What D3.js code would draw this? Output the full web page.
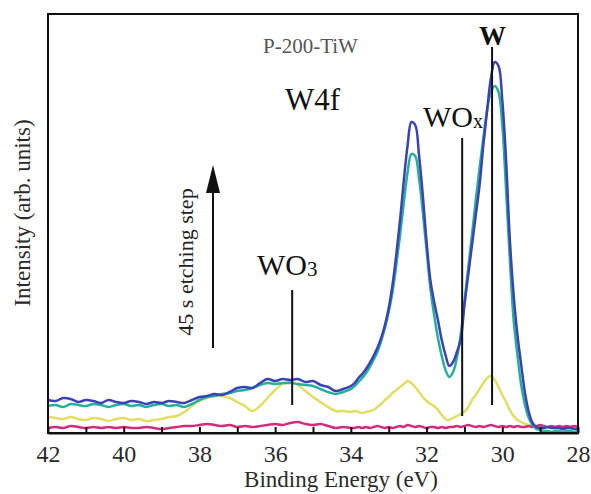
<!DOCTYPE html>
<html><head><meta charset="utf-8">
<script src="https://cdn.jsdelivr.net/npm/d3@7"></script>
<style>
html,body{margin:0;padding:0;background:#fff;}
svg{display:block;}
text{font-family:"Liberation Serif","Times New Roman",serif;}
</style></head>
<body>
<script>
// Binding energy grid (eV)
const energy = [42.0,41.8,41.6,41.4,41.2,41.0,40.8,40.6,40.4,40.2,40.0,39.8,39.6,39.4,39.2,39.0,38.8,38.6,38.4,38.2,
38.0,37.8,37.6,37.4,37.2,37.0,36.8,36.6,36.4,36.2,36.0,35.8,35.6,35.4,35.2,35.0,34.8,34.6,34.4,34.2,34.0,
33.9,33.8,33.7,33.6,33.5,33.4,33.3,33.2,33.1,33.0,32.9,32.8,32.7,32.6,32.5,32.4,32.3,32.2,32.1,32.0,
31.9,31.8,31.7,31.6,31.5,31.4,31.3,31.2,31.1,31.0,30.9,30.8,30.7,30.6,30.5,30.4,30.3,30.2,30.1,30.0,
29.9,29.8,29.7,29.6,29.5,29.4,29.3,29.2,29.1,29.0,28.9,28.8,28.7,28.6,28.5,28.4,28.3,28.2,28.1,28.0];

// Intensities (arb. units)
const seriesBlue = [33,32,35,34,31,33,32,30,33,31,30,32,31,29,31,30,32,31,30,33,
36,37,39,38,41,45,46,45,50,54,52,54,53,54,51,52,48,46,42,44,47,
50,55,59,64,70,77,85,95,108,125,148,178,213,253,288,311,308,278,238,191,
153,131,113,93,78,67,71,81,93,128,158,188,218,248,288,323,355,371,367,333,
273,193,138,98,68,40,21,10,6,5,5,6,5,5,5,4,5,5,4,4];

const seriesGreen = [27,28,26,29,28,27,29,28,26,28,29,27,28,26,28,29,27,28,26,29,
33,36,37,39,40,42,43,45,48,50,49,50,50,49,48,47,44,41,39,41,44,
47,51,55,60,66,73,81,92,105,121,141,168,198,231,261,279,277,255,221,183,
145,118,95,77,63,56,61,75,98,131,165,198,233,265,295,323,341,347,341,308,
243,173,113,78,48,28,15,8,4,3,2,2,1,2,2,1,2,2,1,2];

const seriesYellow = [16,15,14,16,14,13,15,14,12,14,15,13,14,12,13,14,16,17,21,27,
32,35,38,37,35,31,27,22,27,35,43,49,51,48,42,36,31,26,22,22,21,
22,21,20,21,22,23,26,29,33,36,40,43,46,49,52,50,46,41,36,32,
29,27,23,18,14,13,15,17,19,21,26,33,38,44,50,55,57,53,46,38,
31,23,17,13,11,9,8,7,6,6,5,6,5,5,6,5,5,6,5,5];

const seriesMagenta = [5,6,5,7,6,5,6,5,6,5,6,5,5,6,5,4,5,6,7,7,
8,9,8,7,8,6,7,6,7,8,9,8,10,11,9,8,9,7,5,6,5,
5,6,5,6,5,6,7,6,5,6,5,6,7,6,8,7,6,7,6,5,
6,6,5,6,5,6,6,7,6,7,8,7,6,7,6,7,8,7,6,7,
6,7,6,7,6,6,7,6,7,8,7,6,7,6,7,6,7,6,7,6];

const xTicks = [42,41,40,39,38,37,36,35,34,33,32,31,30,29,28];
const xTickLabels = ["42","","40","","38","","36","","34","","32","","30","","28"];

const markerLabels = ["WO3","WOx","W"];
const markerEnergy = [35.55, 31.06, 30.27];

const W = 591, H = 494;
const m = {left:48, top:14, right:578, bottom:433};

const svg = d3.select("body").append("svg").attr("width",W).attr("height",H);

const x = d3.scaleLinear().domain([42,28]).range([m.left, m.right]);
const y = d3.scaleLinear().domain([0,419]).range([m.bottom, m.top]);

const line = d3.line().x((d,i)=>x(energy[i])).y(d=>y(d)).curve(d3.curveCatmullRom.alpha(0.5));

const series = [
  {v: seriesYellow, c:"#e2de62"},
  {v: seriesMagenta, c:"#d22c7c"},
  {v: seriesGreen, c:"#25b09c"},
  {v: seriesBlue, c:"#3a42b6"}
];
series.forEach(s=>{
  svg.append("path").attr("d", line(s.v)).attr("fill","none")
    .attr("stroke", s.c).attr("stroke-width",2.5).attr("stroke-linejoin","round");
});

// frame
svg.append("rect").attr("x",m.left).attr("y",m.top)
  .attr("width",m.right-m.left).attr("height",m.bottom-m.top)
  .attr("fill","none").attr("stroke","#111").attr("stroke-width",2);

// x axis
const ax = svg.append("g").attr("transform",`translate(0,${m.bottom})`)
  .call(d3.axisBottom(x).tickValues(xTicks).tickSizeInner(-6).tickSizeOuter(0)
    .tickFormat((d,i)=>xTickLabels[i]));
ax.select(".domain").attr("stroke","#111").attr("stroke-width",2);
ax.selectAll(".tick line").attr("stroke","#111").attr("stroke-width",2);
ax.selectAll(".tick text").attr("fill","#2a2a2a").attr("font-size",24)
  .attr("font-family","'Liberation Serif', serif").attr("y",12).attr("dy","0.71em");

// axis titles
svg.append("text").attr("x",341).attr("y",487).attr("text-anchor","middle")
  .attr("font-size",23).attr("fill","#2a2a2a").text("Binding Energy (eV)");
svg.append("text").attr("transform","translate(30,213) rotate(-90)").attr("text-anchor","middle")
  .attr("font-size",23).attr("fill","#2a2a2a").text("Intensity (arb. units)");

// sample label
svg.append("text").attr("x",263).attr("y",53).attr("font-size",21).attr("fill","#555").text("P-200-TiW");
svg.append("text").attr("x",285).attr("y",110).attr("font-size",31).attr("fill","#111").text("W4f");

// marker lines
const markerTop = [143, 295, 386];
const markerBottom = [28, 17, 28];
markerEnergy.forEach((e,i)=>{
  svg.append("line").attr("x1",x(e)).attr("x2",x(e)).attr("y1",y(markerTop[i])).attr("y2",y(markerBottom[i]))
    .attr("stroke","#111").attr("stroke-width",2);
});

// WO3 label
const t1 = svg.append("text").attr("x",257).attr("y",275).attr("font-size",30).attr("fill","#111");
t1.append("tspan").text("WO");
t1.append("tspan").attr("font-size",21).attr("dy",1).text("3");
// WOx label
const t2 = svg.append("text").attr("x",423).attr("y",127).attr("font-size",30).attr("fill","#111");
t2.append("tspan").text("WO");
t2.append("tspan").attr("font-size",20).attr("dy",1).text("x");
// W label
svg.append("text").attr("x",492.5).attr("y",45).attr("text-anchor","middle").attr("font-size",27)
  .attr("font-weight","bold").attr("fill","#111").text("W");

// etching arrow
svg.append("line").attr("x1",213).attr("x2",213).attr("y1",348).attr("y2",190)
  .attr("stroke","#111").attr("stroke-width",2);
svg.append("path").attr("d","M213,165 L206,193 L220,193 Z").attr("fill","#111");
svg.append("text").attr("transform","translate(193,262) rotate(-90)").attr("text-anchor","middle")
  .attr("font-size",22).attr("fill","#222").text("45 s etching step");
</script>
</body></html>
